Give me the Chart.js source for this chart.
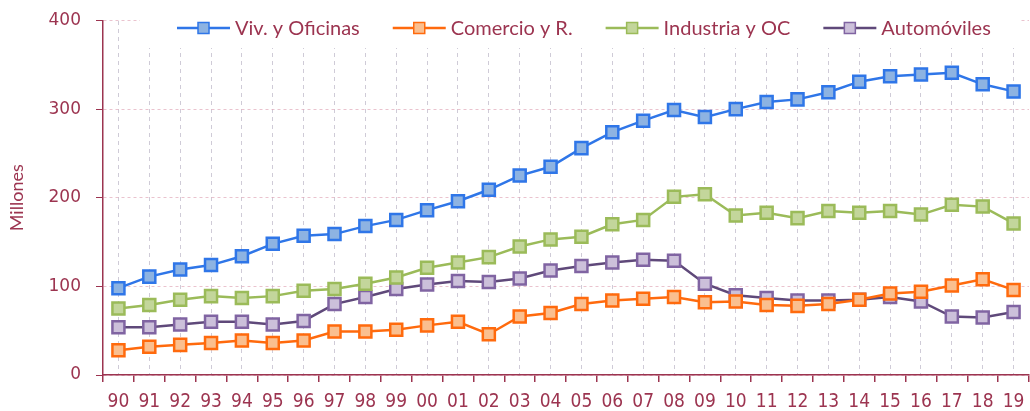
<!DOCTYPE html>
<html>
<head>
<meta charset="utf-8">
<script src="https://cdn.jsdelivr.net/npm/chart.js@4"></script>
<style>
  html, body { margin: 0; padding: 0; background: #fff; overflow: hidden; }
  #clip { position: relative; width: 1030px; height: 411px; overflow: hidden; }
  #chart { position: absolute; left: 0; top: 0; }
</style>
</head>
<body>
<div id="clip"><canvas id="chart" width="1040" height="411"></canvas></div>
<script>
// Años (eje X)
const years = ["90", "91", "92", "93", "94", "95", "96", "97", "98", "99",
  "00", "01", "02", "03", "04", "05", "06", "07", "08", "09",
  "10", "11", "12", "13", "14", "15", "16", "17", "18", "19"];

// Series (millones)
const vivOficinas = [98, 111, 119, 124, 134, 148, 157, 159, 168, 175, 186, 196, 209, 225, 235,
  256, 274, 287, 299, 291, 300, 308, 311, 319, 331, 337, 339, 341, 328, 320];
const comercio = [28, 32, 34, 36, 39, 36, 39, 49, 49, 51, 56, 60, 46, 66, 70,
  80, 84, 86, 88, 82, 83, 79, 78, 80, 85, 92, 94, 101, 108, 96];
const industria = [75, 79, 85, 89, 87, 89, 95, 97, 103, 110, 121, 127, 133, 145, 153,
  156, 170, 175, 201, 204, 180, 183, 177, 185, 183, 185, 181, 192, 190, 171];
const automoviles = [54, 54, 57, 60, 60, 57, 61, 80, 88, 97, 102, 106, 105, 109, 118,
  123, 127, 130, 129, 103, 90, 87, 84, 84, 85, 88, 83, 66, 65, 71];

const yTicks = [0, 100, 200, 300, 400];

const textColor = "#9c3450";

function serie(label, data, line, marker, fill) {
  return {
    label: label,
    data: data,
    xAxisID: "x",
    borderColor: line,
    borderWidth: 2.5,
    tension: 0,
    pointStyle: "rect",
    pointRadius: 8.5,
    pointHoverRadius: 8.5,
    pointBorderWidth: 2.5,
    pointBorderColor: marker,
    pointBackgroundColor: fill,
  };
}

// Leyenda dibujada a mano sobre el área del gráfico
const legendPlugin = {
  id: "customLegend",
  afterDraw(chart) {
    const ctx = chart.ctx;
    ctx.save();
    ctx.fillStyle = "#fff";
    ctx.fillRect(140, 8, 880, 40);
    ctx.font = "20px Lato";
    ctx.textBaseline = "middle";
    let x = 177;
    const y = 28;
    chart.data.datasets.forEach((ds) => {
      ctx.strokeStyle = ds.borderColor;
      ctx.lineWidth = 2.5;
      ctx.beginPath();
      ctx.moveTo(x, y);
      ctx.lineTo(x + 53, y);
      ctx.stroke();
      ctx.fillStyle = ds.pointBackgroundColor;
      ctx.fillRect(x + 21, y - 5.5, 11, 11);
      ctx.strokeStyle = ds.pointBorderColor;
      ctx.lineWidth = 1.5;
      ctx.strokeRect(x + 21, y - 5.5, 11, 11);
      ctx.fillStyle = textColor;
      ctx.fillText(ds.label, x + 58, y + 1);
      x += 58 + ctx.measureText(ds.label).width + 33;
    });
    ctx.restore();
  },
};

new Chart(document.getElementById("chart"), {
  type: "line",
  data: {
    labels: years,
    datasets: [
      serie("Viv. y Oficinas", vivOficinas, "#2f76e8", "#2f76e8", "#8db3e2"),
      serie("Comercio y R.", comercio, "#ff6a0d", "#ff6a0d", "#fabf8f"),
      serie("Industria y OC", industria, "#9bbb59", "#9bbb59", "#c3d69b"),
      serie("Automóviles", automoviles, "#5f497a", "#8064a2", "#ccc0da"),
    ],
  },
  options: {
    responsive: false,
    animation: false,
    layout: { padding: { top: 20.5, right: 0, left: 0, bottom: 0 } },
    plugins: {
      legend: { display: false },
      tooltip: { enabled: false },
    },
    scales: {
      x: {
        type: "category",
        position: "bottom",
        offset: true,
        grid: {
          offset: true,
          drawOnChartArea: false,
          drawTicks: true,
          tickLength: 7,
          tickColor: textColor,
          lineWidth: 1.5,
        },
        border: { color: textColor, width: 1.5 },
        ticks: {
          color: textColor,
          font: { family: "'Liberation Sans Narrow', 'DejaVu Sans Condensed', Roboto", size: 19 },
          maxRotation: 0,
          autoSkip: false,
          padding: 9,
        },
        afterFit(scale) {
          scale.height = 36;
          scale.paddingLeft = 0;
          scale.paddingRight = 0;
        },
      },
      xg: {
        type: "category",
        position: "top",
        offset: true,
        labels: years,
        grid: {
          color: "rgba(195, 190, 205, 0.8)",
          lineWidth: 1,
          drawTicks: false,
        },
        border: { display: false, dash: [4, 4] },
        ticks: { display: false },
        afterFit(scale) {
          scale.height = 0;
          scale.paddingLeft = 0;
          scale.paddingRight = 0;
        },
      },
      y: {
        min: 0,
        max: 400,
        afterBuildTicks(scale) {
          scale.ticks = yTicks.map((v) => ({ value: v }));
        },
        grid: {
          color: "rgba(225, 170, 185, 0.7)",
          lineWidth: 1,
          tickColor: textColor,
          tickLength: 7,
        },
        border: { color: textColor, width: 1.5, dash: [3, 3] },
        ticks: {
          color: textColor,
          font: { family: "'DejaVu Sans'", size: 17 },
          padding: 15,
        },
        title: {
          display: true,
          text: "Millones",
          color: textColor,
          font: { family: "Lato", size: 18 },
          padding: { top: 6, bottom: 0 },
        },
        afterFit(scale) {
          scale.width = 103;
          scale.paddingTop = 0;
          scale.paddingBottom = 0;
        },
      },
    },
  },
  plugins: [legendPlugin],
});
</script>
</body>
</html>
